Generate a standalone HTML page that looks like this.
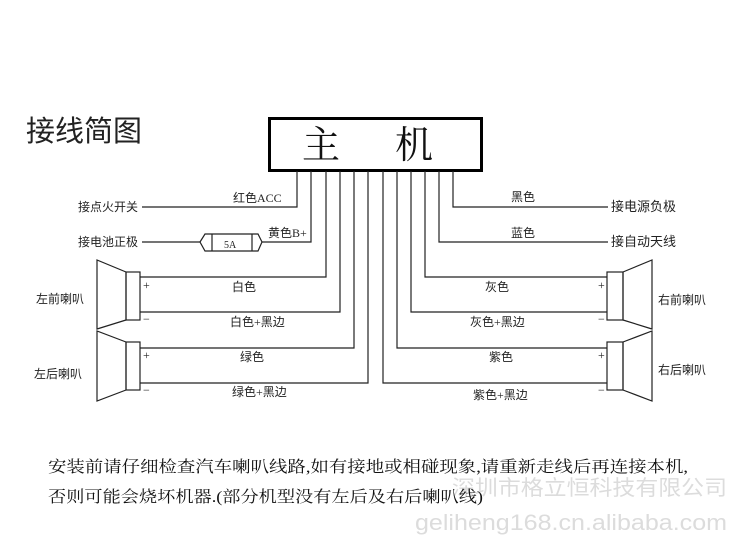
<!DOCTYPE html>
<html><head><meta charset="utf-8"><style>html,body{margin:0;padding:0;background:#fff}svg{display:block}</style></head>
<body>
<svg width="751" height="551" viewBox="0 0 751 551" xmlns="http://www.w3.org/2000/svg" font-family="'Liberation Serif','Noto Serif CJK SC',serif">
<rect width="751" height="551" fill="#fff"/>
<text x="26" y="141" font-size="29" fill="#222" font-family="'Liberation Sans','Noto Sans CJK SC',sans-serif">接线简图</text>
<rect x="269.5" y="118.5" width="212" height="52" fill="#fff" stroke="#000" stroke-width="3"/>
<text x="302" y="158" font-size="38" fill="#111" font-family="'Noto Serif CJK SC',serif">主</text>
<text x="395" y="158" font-size="38" fill="#111" font-family="'Noto Serif CJK SC',serif">机</text>
<g stroke="#222" stroke-width="1.2" fill="none">
<polyline points="297,171 297,207 142,207"/>
<polyline points="311,171 311,242 262,242"/>
<line x1="142" y1="242" x2="200" y2="242"/>
<polyline points="326,171 326,277 140,277"/>
<polyline points="340,171 340,312 140,312"/>
<polyline points="354,171 354,348 140,348"/>
<polyline points="368,171 368,383 140,383"/>
<polyline points="383,171 383,383 607,383"/>
<polyline points="397,171 397,348 607,348"/>
<polyline points="411,171 411,312 607,312"/>
<polyline points="425,171 425,277 607,277"/>
<polyline points="439,171 439,242 608,242"/>
<polyline points="453,171 453,207 608,207"/>
<polygon points="200,242 205,234 258,234 262,242 258,251 205,251"/>
<line x1="212" y1="234" x2="212" y2="251"/><line x1="252" y1="234" x2="252" y2="251"/>
<rect x="126" y="272" width="14" height="48"/><polygon points="126,272 97,260 97,329 126,320"/>
<rect x="126" y="342" width="14" height="48"/><polygon points="126,342 97,331 97,401 126,390"/>
<rect x="607" y="272" width="16" height="48"/><polygon points="623,272 652,260 652,329 623,320"/>
<rect x="607" y="342" width="16" height="48"/><polygon points="623,342 652,331 652,401 623,390"/>
</g>
<g font-size="12" fill="#222" font-family="'Liberation Serif','Noto Sans CJK SC',sans-serif">
<text x="78" y="211">接点火开关</text>
<text x="78" y="246">接电池正极</text>
<text x="233" y="202">红色ACC</text>
<text x="268" y="237">黄色B+</text>
<text x="224" y="248" font-size="10">5A</text>
<text x="232" y="291">白色</text>
<text x="230" y="326">白色+黑边</text>
<text x="240" y="361">绿色</text>
<text x="232" y="396">绿色+黑边</text>
<text x="143" y="289">+</text><text x="143" y="323">−</text>
<text x="143" y="359">+</text><text x="143" y="394">−</text>
<text x="36" y="303">左前喇叭</text>
<text x="34" y="378">左后喇叭</text>
<text x="511" y="201">黑色</text>
<text x="511" y="237">蓝色</text>
<text x="485" y="291">灰色</text>
<text x="470" y="326">灰色+黑边</text>
<text x="489" y="361">紫色</text>
<text x="473" y="399">紫色+黑边</text>
<text x="598" y="289">+</text><text x="598" y="323">−</text>
<text x="598" y="359">+</text><text x="598" y="394">−</text>
<text x="611" y="211" font-size="13">接电源负极</text>
<text x="611" y="246" font-size="13">接自动天线</text>
<text x="658" y="304">右前喇叭</text>
<text x="658" y="374">右后喇叭</text>
</g>
<text x="452" y="495" font-size="21" fill="#dcdcdc" textLength="275" lengthAdjust="spacingAndGlyphs" font-family="'Liberation Sans','Noto Sans CJK SC',sans-serif">深圳市格立恒科技有限公司</text>
<text x="415" y="530" font-size="22" fill="#dcdcdc" textLength="312" lengthAdjust="spacingAndGlyphs" font-family="'Liberation Sans',sans-serif">geliheng168.cn.alibaba.com</text>
<g font-size="16" fill="#111" font-family="'Liberation Serif','Noto Serif CJK SC',serif">
<text x="48" y="472" textLength="640" lengthAdjust="spacingAndGlyphs">安装前请仔细检查汽车喇叭线路,如有接地或相碰现象,请重新走线后再连接本机,</text>
<text x="48" y="502" textLength="435" lengthAdjust="spacingAndGlyphs">否则可能会烧坏机器.(部分机型没有左后及右后喇叭线)</text>
</g>
</svg>
</body></html>
